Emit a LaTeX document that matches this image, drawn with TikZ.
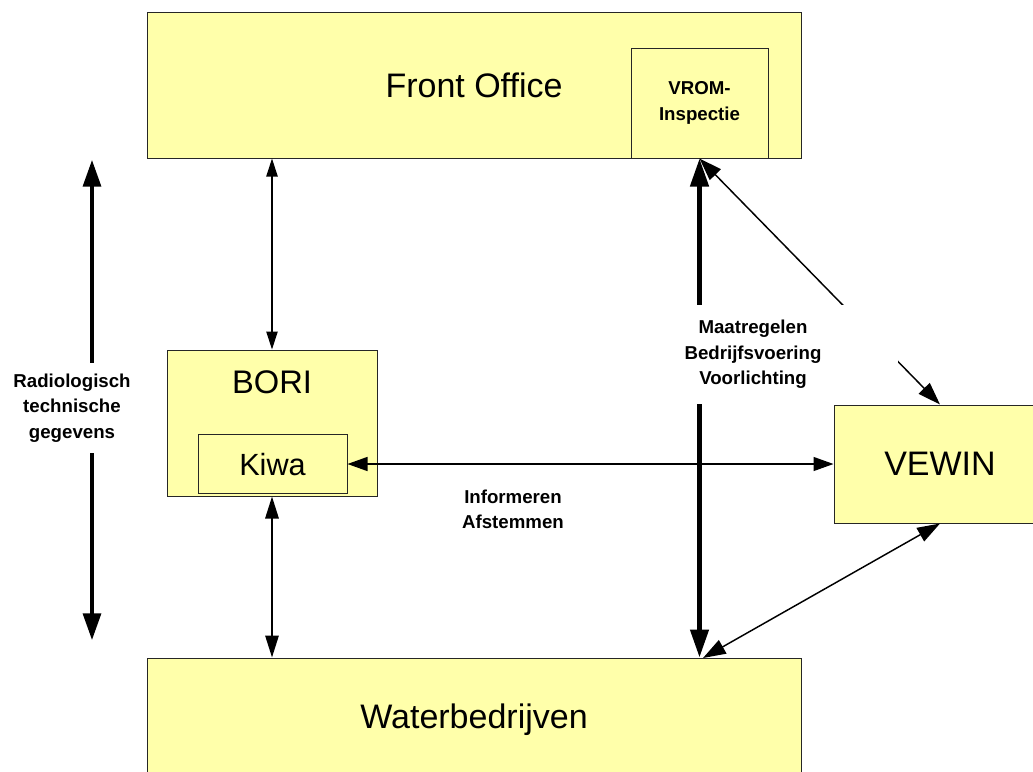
\documentclass[tikz,border=0pt]{standalone}
\usepackage{fontspec}
\setmainfont{Liberation Sans}
\usetikzlibrary{arrows.meta}
\definecolor{boxfill}{HTML}{FFFFAA}
\begin{document}
\begin{tikzpicture}[x=0.75pt,y=-0.75pt,
  box/.style={draw=black!85, line width=0.75pt, fill=boxfill, inner sep=0pt},
  bigtxt/.style={font=\fontsize{25.5}{30}\selectfont},
  lbl/.style={font=\fontsize{14}{19}\selectfont\bfseries, align=center, inner sep=0pt},
  thinarr/.style={line width=1pt, {Triangle[length=15pt,width=10.5pt]}-{Triangle[length=15pt,width=10.5pt]}},
  toparr/.style={line width=0.9pt, {Triangle[length=13.5pt,width=8.5pt]}-{Triangle[length=13.5pt,width=8.5pt]}},
  midarr/.style={line width=1.5pt, {Triangle[length=16.5pt,width=10pt]}-{Triangle[length=16.5pt,width=10pt]}},
  leftarr/.style={line width=2.4pt, {Triangle[length=20pt,width=13.5pt]}-{Triangle[length=20pt,width=13.5pt]}},
  thickarr/.style={line width=3.4pt, {Triangle[length=21pt,width=13.5pt]}-{Triangle[length=21pt,width=13.5pt]}},
  diagarr/.style={line width=1.1pt, {Triangle[length=17pt,width=11.5pt]}-{Triangle[length=17pt,width=11.5pt]}}
]
\clip (0,0) rectangle (1033,772);
% boxes
\node[box, bigtxt, minimum width=490.5pt, minimum height=109.5pt] (FO) at (474,85) {Front Office};
\node[box, lbl, minimum width=102.75pt, minimum height=82.5pt] (VROM) at (699.5,103) {VROM-\\Inspectie};
\node[box, minimum width=157.5pt, minimum height=109.5pt] (BORI) at (272,423) {};
\node[font=\fontsize{24.5}{28}\selectfont, anchor=base, inner sep=0pt] (BORItxt) at (272,393) {BORI};
\node[box, font=\fontsize{23}{27}\selectfont, text depth=0pt, minimum width=111.75pt, minimum height=44.25pt] (Kiwa) at (272.5,464) {Kiwa};
\node[box, bigtxt, text depth=0pt, minimum width=159pt, minimum height=88.5pt] (VEWIN) at (940,464) {VEWIN};
\node[box, bigtxt, text depth=0pt, minimum width=490.5pt, minimum height=87pt] (Water) at (474,716) {Waterbedrijven};
% connectors
\draw[toparr] (FO.south -| BORI.north) -- (BORI.north);
\draw[midarr] (BORI.south) -- (BORI.south |- Water.north);
\coordinate (lt) at (92,160);
\coordinate (lb) at (92,640);
\draw[leftarr] (lt) -- (lb);
\node[lbl, fill=white, minimum height=67.5pt] (radlbl) at (72,408) {Radiologisch\\technische\\gegevens};
\draw[thinarr] (Kiwa.east) -- (VEWIN.west);
\draw[thickarr] (VROM.south) -- (VROM.south |- Water.north);
\draw[diagarr] (VROM.south) -- (VEWIN.north);
\coordinate (wv) at (703,658);
\draw[diagarr] (VEWIN.south) -- (wv);
\node[lbl, fill=white, minimum width=217.5pt, minimum height=74.25pt] (maat) at (753,354.5) {Maatregelen\\Bedrijfsvoering\\Voorlichting};
\node[lbl] (info) at (513,509.5) {Informeren\\Afstemmen};
\end{tikzpicture}
\end{document}
